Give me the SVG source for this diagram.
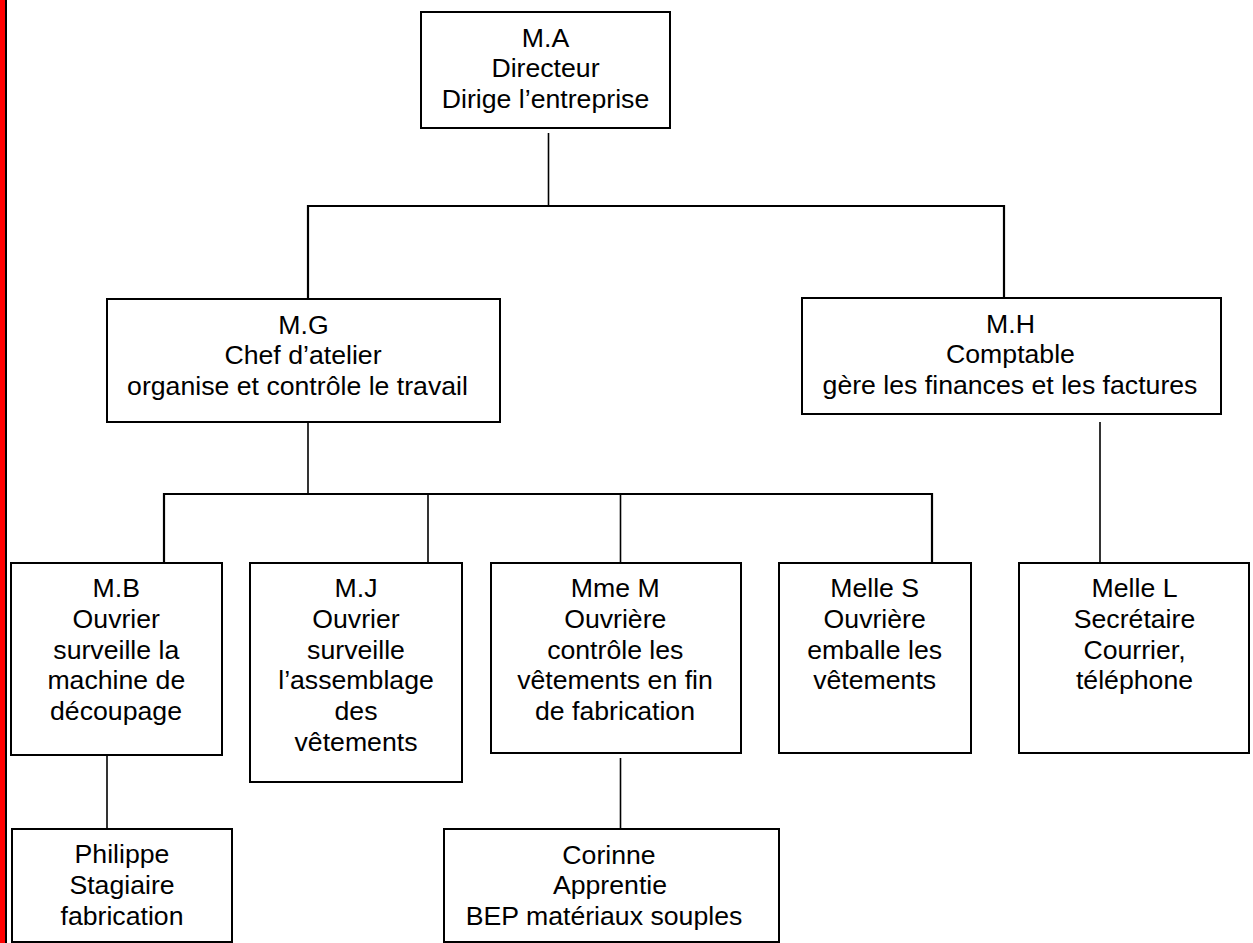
<svg xmlns="http://www.w3.org/2000/svg" width="1253" height="943" viewBox="0 0 1253 943">
<style>
.box{fill:#fff;stroke:#000;stroke-width:2}
.ln{fill:none;stroke:#000;stroke-width:1.6}
.bus{fill:none;stroke:#000;stroke-width:2.2}
text{font-family:"Liberation Sans",Arial,sans-serif;font-size:26.67px;fill:#000;text-anchor:middle}
</style>
<rect x="0" y="0" width="1253" height="943" fill="#fff"/>
<rect x="0" y="0" width="5" height="943" fill="#ff0000"/>
<rect x="5" y="0" width="2" height="943" fill="#000"/>
<g id="connectors">
<line class="ln" x1="548.5" y1="133" x2="548.5" y2="206"/>
<path class="bus" d="M308 299 V206 H1004 V298"/>
<line class="ln" x1="308" y1="422" x2="308" y2="494"/>
<path class="bus" d="M164 563 V494 H932 V563"/>
<line class="ln" x1="428" y1="494" x2="428" y2="563"/>
<line class="ln" x1="620.5" y1="494" x2="620.5" y2="563"/>
<line class="ln" x1="107" y1="755" x2="107" y2="829"/>
<line class="ln" x1="620.5" y1="758" x2="620.5" y2="829"/>
<line class="ln" x1="1100" y1="422" x2="1100" y2="563"/>
</g>
<g id="MA">
<rect class="box" x="421" y="12" width="249" height="116"/>
<text x="545.5" y="46.5">M.A</text>
<text x="545.5" y="77.2">Directeur</text>
<text x="545.5" y="107.9">Dirige l’entreprise</text>
</g>
<g id="MG">
<rect class="box" x="107" y="299" width="393" height="123"/>
<text x="303.5" y="333.5">M.G</text>
<text x="303" y="364.2">Chef d’atelier</text>
<text x="297.5" y="394.9">organise et contrôle le travail</text>
</g>
<g id="MH">
<rect class="box" x="802" y="298" width="419" height="116"/>
<text x="1010.5" y="332.5">M.H</text>
<text x="1010.5" y="363.2">Comptable</text>
<text x="1010" y="393.9">gère les finances et les factures</text>
</g>
<g id="MB">
<rect class="box" x="11" y="563" width="211" height="192"/>
<text x="116.3" y="597.3">M.B</text>
<text x="116.3" y="628">Ouvrier</text>
<text x="116.3" y="658.7">surveille la</text>
<text x="116.3" y="689.4">machine de</text>
<text x="116" y="720.1">découpage</text>
</g>
<g id="MJ">
<rect class="box" x="250" y="563" width="212" height="219"/>
<text x="356" y="597.3">M.J</text>
<text x="356" y="628">Ouvrier</text>
<text x="356" y="658.7">surveille</text>
<text x="356" y="689.4">l’assemblage</text>
<text x="356" y="720.1">des</text>
<text x="356" y="750.8">vêtements</text>
</g>
<g id="MmeM">
<rect class="box" x="491" y="563" width="250" height="190"/>
<text x="615.3" y="597.3">Mme M</text>
<text x="615.3" y="628">Ouvrière</text>
<text x="615.3" y="658.7">contrôle les</text>
<text x="615" y="689.4">vêtements en fin</text>
<text x="615" y="720.1">de fabrication</text>
</g>
<g id="MelleS">
<rect class="box" x="779" y="563" width="192" height="190"/>
<text x="874.7" y="597.3">Melle S</text>
<text x="874.7" y="628">Ouvrière</text>
<text x="874.7" y="658.7">emballe les</text>
<text x="874.7" y="689.4">vêtements</text>
</g>
<g id="MelleL">
<rect class="box" x="1019" y="563" width="230" height="190"/>
<text x="1134.5" y="597.3">Melle L</text>
<text x="1134.5" y="628">Secrétaire</text>
<text x="1134.5" y="658.7">Courrier,</text>
<text x="1134.5" y="689.4">téléphone</text>
</g>
<g id="Philippe">
<rect class="box" x="12" y="829" width="220" height="113"/>
<text x="122" y="863.3">Philippe</text>
<text x="122" y="894">Stagiaire</text>
<text x="122" y="924.7">fabrication</text>
</g>
<g id="Corinne">
<rect class="box" x="444" y="829" width="335" height="113"/>
<text x="609" y="863.6">Corinne</text>
<text x="610" y="894.3">Apprentie</text>
<text x="604" y="925">BEP matériaux souples</text>
</g>
</svg>
